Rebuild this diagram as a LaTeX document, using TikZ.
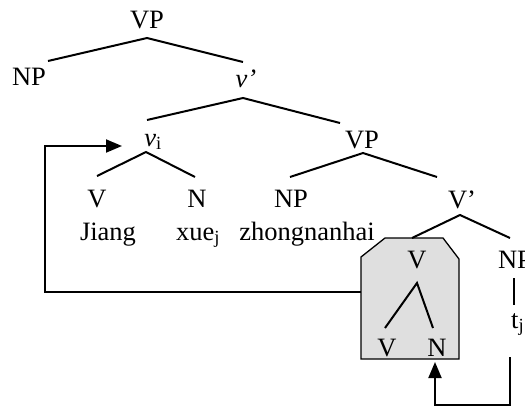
\documentclass[tikz,border=0pt]{standalone}
\usepackage{fontspec}
\setmainfont{Liberation Serif}
\usetikzlibrary{arrows.meta}
\begin{document}
\begin{tikzpicture}[x=1pt,y=-1pt,
  lbl/.style={inner sep=0pt,anchor=base,font=\fontsize{26.5}{30}\selectfont},
  branch/.style={line width=2pt},
  link/.style={line width=1.9pt},
  tip/.style={-{Triangle[length=16pt,width=13pt]}},
  headbox/.style={draw=black,line width=1.3pt,fill=gray!25}]
\useasboundingbox (0,0) rectangle (525,408);
\clip (0,0) rectangle (525,408);

% complex head V[V N] after incorporation
\draw[headbox] (385,238) -- (443,238) -- (459,259) -- (459,359)
  -- (361,359) -- (361,257) -- cycle;
\coordinate (boxW) at (361,292);
\coordinate (loopR) at (510,357);

% labels
\node[lbl] (vp0) at (147,28) {VP};
\node[lbl] (np0) at (29,85) {NP};
\node[lbl] (vbar) at (246,87) {\textit{v’}};
\node[lbl] (vi) at (153,146) {\textit{v}\textsubscript{i}};
\node[lbl] (vp1) at (362,148) {VP};
\node[lbl] (v1) at (97,207) {V};
\node[lbl] (n1) at (197,207) {N};
\node[lbl] (np1) at (291,207) {NP};
\node[lbl] (jiang) at (108,240) {Jiang};
\node[lbl] (xue) at (198,240) {xue\textsubscript{j}};
\node[lbl] (zh) at (307,240) {zhongnanhai};
\node[lbl] (vbar2) at (462,208) {V’};
\node[lbl] (np2) at (515,268) {NP};
\node[lbl,anchor=base west] (tj) at (511,328) {t\textsubscript{j}};
\node[lbl] (v2) at (417,268) {V};
\node[lbl] (v3) at (387,356) {V};
\node[lbl] (n3) at (437,356) {N};

% tree branches
\draw[branch] ([shift={(-99,33)}]vp0.base) -- ([shift={(0,10)}]vp0.base)
  -- ([shift={(-3,-25)}]vbar.base);
\draw[branch] ([shift={(-6,-26)}]vi.base) -- ([shift={(-3,11)}]vbar.base)
  -- ([shift={(-22,-25)}]vp1.base);
\draw[branch] ([shift={(0,-31)}]v1.base) -- ([shift={(-7,6)}]vi.base)
  -- ([shift={(-2,-30)}]n1.base);
\draw[branch] ([shift={(-1,-30)}]np1.base) -- ([shift={(1,5)}]vp1.base)
  -- ([shift={(-25,-31)}]vbar2.base);
\draw[branch] ([shift={(-50,30)}]vbar2.base) -- ([shift={(-2,7)}]vbar2.base)
  -- ([shift={(48,30)}]vbar2.base);
\draw[branch] ([shift={(-2,-28)}]v3.base) -- ([shift={(0,15)}]v2.base)
  -- ([shift={(-4,-28)}]n3.base);
\draw[branch] ([shift={(-1,10)}]np2.base) -- ([shift={(3,-23)}]tj.base west);

% movement arrows
\draw[link,tip] (boxW) -- ++(-316,0) |- ([shift={(-31,0)}]vi.base);
\draw[link,tip] (loopR) -- ++(0,48) -| ([shift={(-2,6)}]n3.base);
\end{tikzpicture}
\end{document}
